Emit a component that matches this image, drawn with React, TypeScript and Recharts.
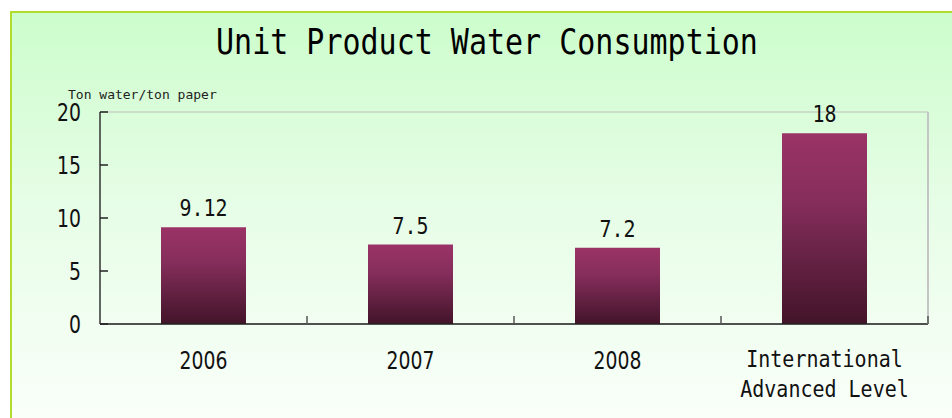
import React from 'react';
import { BarChart, Bar, XAxis, YAxis, CartesianGrid, LabelList } from 'recharts';

const categories = ['2006', '2007', '2008', 'International\nAdvanced Level'];
const values = [9.12, 7.5, 7.2, 18];
const valueLabels = ['9.12', '7.5', '7.2', '18'];
const yTicks = [0, 5, 10, 15, 20];

const data = categories.map((name, i) => ({ name, value: values[i], label: valueLabels[i] }));

const W = 952;
const H = 418;
const margin = { top: 112, right: 22, bottom: 14, left: 40 };
const Y_AXIS_W = 60;
const R_AXIS_W = 2;
const plotWidth = W - margin.left - margin.right - Y_AXIS_W - R_AXIS_W;
const band = plotWidth / categories.length;

const sansNarrow = '"DejaVu Sans Condensed", "DejaVu Sans", sans-serif';
const mono = '"DejaVu Sans Mono", "Liberation Mono", monospace';

// narrow, tall text like the original's fonts
function Txt({ x, y, size, family, sx, sy, children }: any) {
  return (
    <text
      transform={`translate(${x},${y}) scale(${sx},${sy})`}
      textAnchor="middle"
      fontFamily={family}
      fontSize={size}
      fill="#111"
    >
      {children}
    </text>
  );
}

function YTick({ x, y, payload }: any) {
  return (
    <g>
      <line x1={x} x2={x + 8} y1={y} y2={y} stroke="#222" strokeWidth={1.5} />
      <text
        transform={`translate(${x - 19},${y + 9}) scale(0.87,1)`}
        textAnchor="end"
        fontFamily={sansNarrow}
        fontSize={24}
        fill="#111"
      >
        {payload.value}
      </text>
    </g>
  );
}

function XTick({ x, y, payload }: any) {
  const lines = String(payload.value).split('\n');
  const isWord = lines.length > 1;
  return (
    <g>
      <line x1={x + band / 2} x2={x + band / 2} y1={y} y2={y - 8} stroke="#555" strokeWidth={1.5} />
      {lines.map((t, i) =>
        isWord ? (
          <Txt key={i} x={x} y={y + 43 + i * 30} size={20} family={mono} sx={1} sy={1.15}>
            {t}
          </Txt>
        ) : (
          <Txt key={i} x={x} y={y + 45} size={24} family={sansNarrow} sx={0.87} sy={1}>
            {t}
          </Txt>
        )
      )}
    </g>
  );
}

function ValueLabel({ x, y, width, value }: any) {
  return (
    <Txt x={x + width / 2} y={y - 11} size={21} family={mono} sx={0.95} sy={1.12}>
      {value}
    </Txt>
  );
}

export default function App() {
  return (
    <div style={{ position: 'relative', width: W, height: H, overflow: 'hidden', background: '#fff' }}>
      <style>{'body{margin:0}'}</style>
      <div
        style={{
          position: 'absolute',
          left: 10,
          top: 11,
          width: W,
          height: H,
          borderLeft: '2px solid #b2dc2e',
          borderTop: '2px solid #b2dc2e',
          background: 'linear-gradient(to bottom, #ccfdcc 0%, #e6fde6 45%, #fbfffb 100%)',
        }}
      />
      <div
        style={{
          position: 'absolute',
          left: 0,
          top: 24,
          width: 974,
          textAlign: 'center',
          fontFamily: mono,
          fontSize: 30,
          color: '#000',
          transform: 'scaleY(1.2)',
          whiteSpace: 'pre',
        }}
      >
        Unit Product Water Consumption
      </div>
      <div
        style={{
          position: 'absolute',
          left: 68,
          top: 87,
          fontFamily: mono,
          fontSize: 13,
          lineHeight: '15px',
          color: '#222',
        }}
      >
        Ton water/ton paper
      </div>
      <div style={{ position: 'absolute', left: 0, top: 0 }}>
        <BarChart width={W} height={H} data={data} margin={margin} barCategoryGap="29%">
          <defs>
            <linearGradient id="barFill" x1="0" y1="0" x2="0" y2="1">
              <stop offset="0%" stopColor="#9b3366" />
              <stop offset="35%" stopColor="#862e5c" />
              <stop offset="100%" stopColor="#421429" />
            </linearGradient>
          </defs>
          <CartesianGrid vertical={false} stroke="#bdbdbd" strokeWidth={1.2} />
          <XAxis
            dataKey="name"
            interval={0}
            tickSize={0}
            tickMargin={0}
            tickLine={false}
            axisLine={{ stroke: '#222', strokeWidth: 1.5 }}
            tick={<XTick />}
            height={80}
          />
          <YAxis
            yAxisId="left"
            domain={[0, 20]}
            ticks={yTicks}
            width={Y_AXIS_W}
            tickSize={0}
            tickMargin={0}
            tickLine={false}
            axisLine={{ stroke: '#333', strokeWidth: 1.5 }}
            tick={<YTick />}
          />
          <YAxis
            yAxisId="right"
            orientation="right"
            domain={[0, 20]}
            width={R_AXIS_W}
            tick={false}
            tickLine={false}
            axisLine={{ stroke: '#c4c4c4', strokeWidth: 2 }}
          />
          <Bar yAxisId="left" dataKey="value" fill="url(#barFill)" barSize={85} isAnimationActive={false}>
            <LabelList dataKey="label" content={<ValueLabel />} />
          </Bar>
        </BarChart>
      </div>
    </div>
  );
}
